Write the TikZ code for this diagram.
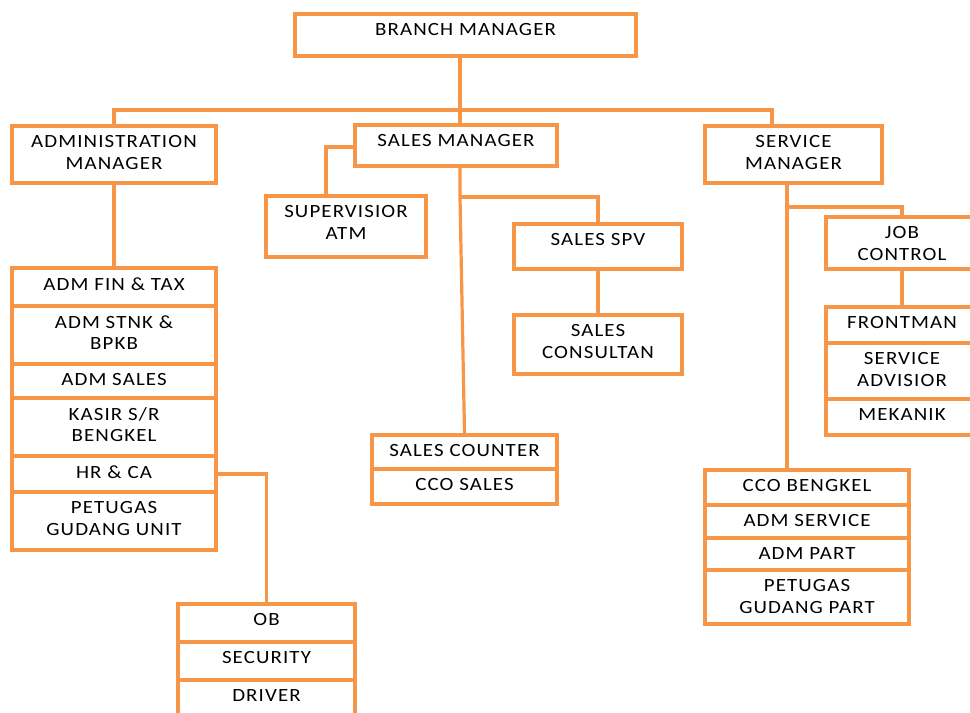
\documentclass[tikz,border=0pt]{standalone}
\usepackage{fontspec}
\setmainfont{Carlito}[LetterSpace=6,FakeStretch=1.12]
\usetikzlibrary{fit}
\definecolor{orgorange}{HTML}{F79646}

\tikzset{
  unit/.style={draw=orgorange, line width=2.4pt, inner sep=0pt},
  lbl/.style={anchor=north, inner sep=0pt, yshift=-8pt, align=center,
    font=\fontsize{14}{16.2}\selectfont},
  link/.style={draw=orgorange, line width=2.4pt},
}

\begin{document}
\begin{tikzpicture}[x=0.75pt,y=-0.75pt]
 \path[use as bounding box, clip] (0,0) rectangle (970,713);
 % top level
 \node[unit, fit={(295,14) (636,56)}, label={[lbl]north:BRANCH MANAGER}] (bm) {};
 \node[unit, fit={(12,126) (216,183)}, label={[lbl]north:{ADMINISTRATION\\MANAGER}}] (am) {};
 \node[unit, fit={(355,125) (557,166)}, label={[lbl]north:SALES MANAGER}] (sm) {};
 \node[unit, fit={(705,126) (882,183)}, label={[lbl]north:{SERVICE\\MANAGER}}] (sv) {};
 % administration
 \node[unit, fit={(12,268) (216,306)}, label={[lbl]north:{ADM FIN \& TAX}}] (fin) {};
 \node[unit, fit={(12,306) (216,364)}, label={[lbl]north:{ADM STNK \&\\BPKB}}] (stnk) {};
 \node[unit, fit={(12,364) (216,398)}, label={[lbl]north:ADM SALES}] (admsales) {};
 \node[unit, fit={(12,398) (216,456)}, label={[lbl]north:{KASIR S/R\\BENGKEL}}] (kasir) {};
 \node[unit, fit={(12,456) (216,492)}, label={[lbl]north:{HR \& CA}}] (hr) {};
 \node[unit, fit={(12,492) (216,550)}, label={[lbl]north:{PETUGAS\\GUDANG UNIT}}] (gudu) {};
 \node[unit, fit={(178,604) (355,642)}, label={[lbl]north:OB}] (ob) {};
 \node[unit, fit={(178,642) (355,680)}, label={[lbl]north:SECURITY}] (sec) {};
 \node[unit, fit={(178,680) (355,725)}, label={[lbl]north:DRIVER}] (drv) {};
 % sales
 \node[unit, fit={(266,196) (426,257)}, label={[lbl]north:{SUPERVISIOR\\ATM}}] (atm) {};
 \node[unit, fit={(514,224) (682,269)}, label={[lbl]north:SALES SPV}] (spv) {};
 \node[unit, fit={(514,315) (682,374)}, label={[lbl]north:{SALES\\CONSULTAN}}] (cons) {};
 \node[unit, fit={(372,435) (557,469)}, label={[lbl]north:SALES COUNTER}] (sc) {};
 \node[unit, fit={(372,469) (557,504)}, label={[lbl]north:CCO SALES}] (ccos) {};
 % service
 \node[unit, fit={(826,217) (978,269)}, label={[lbl]north:{JOB\\CONTROL}}] (job) {};
 \node[unit, fit={(826,307) (978,343)}, label={[lbl]north:FRONTMAN}] (front) {};
 \node[unit, fit={(826,343) (978,399)}, label={[lbl]north:{SERVICE\\ADVISIOR}}] (adv) {};
 \node[unit, fit={(826,399) (978,435)}, label={[lbl]north:MEKANIK}] (mek) {};
 \node[unit, fit={(705,470) (909,505)}, label={[lbl]north:CCO BENGKEL}] (ccob) {};
 \node[unit, fit={(705,505) (909,538)}, label={[lbl]north:ADM SERVICE}] (admsv) {};
 \node[unit, fit={(705,538) (909,570)}, label={[lbl]north:ADM PART}] (admp) {};
 \node[unit, fit={(705,570) (909,624)}, label={[lbl]north:{PETUGAS\\GUDANG PART}}] (gudp) {};

 % connectors
 \coordinate (bus) at (460,110);
 \coordinate (busR) at (772,110);
 \coordinate (atmj) at (326,147);
 \coordinate (smj) at (460,197);
 \coordinate (svj) at (787,207);
 \draw[link] (bm.south -| bus) -- (sm.north -| bus);
 \draw[link] (am.north) |- (busR) -- (sv.north -| busR);
 \draw[link] (am.south) -- (fin.north);
 \draw[link] (hr.east) -| (ob.north);
 \draw[link] (sm.west |- atmj) -- (atmj) -- (atm.north -| atmj);
 \draw[link] (sm.south -| smj) -- (smj) -- (sc.north);
 \draw[link] (smj) -| (spv.north);
 \draw[link] (spv.south) -- (cons.north);
 \draw[link] (sv.south -| svj) -- (ccob.north -| svj);
 \draw[link] (svj) -| (job.north);
 \draw[link] (job.south) -- (front.north);
\end{tikzpicture}
\end{document}
